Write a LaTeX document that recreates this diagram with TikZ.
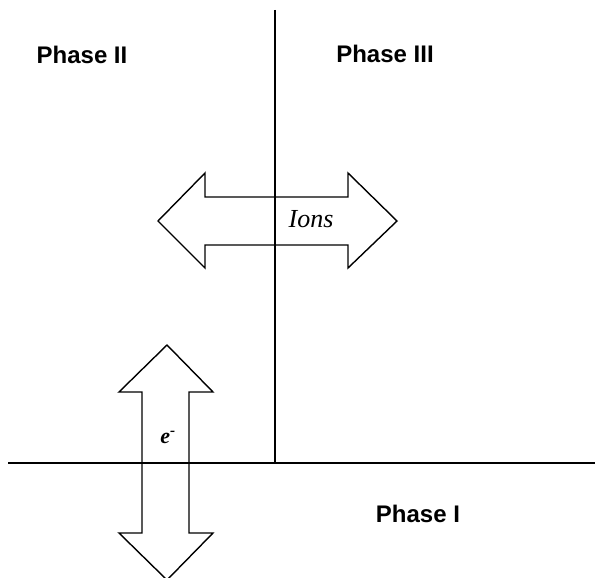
\documentclass[tikz,border=0pt]{standalone}
\usepackage{fontspec}
\setmainfont{Liberation Serif}
\setsansfont{Liberation Sans}
\begin{document}
\begin{tikzpicture}[x=1pt,y=-1pt,
  phase/.style={font=\sffamily\bfseries\fontsize{24}{28}\selectfont, inner sep=0pt},
  bound/.style={line width=1.9pt},
  fatarrow/.style={line width=1.4pt, line join=miter}]
\useasboundingbox (0,0) rectangle (595,578);
% boundaries
\coordinate (vtop) at (275,10);
\coordinate (vbot) at (275,463);
\coordinate (hleft) at (8,463);
\coordinate (hright) at (595,463);
\draw[bound] (vtop) -- (vbot);
\draw[bound] (hleft) -- (hright);
% Ions arrow
\draw[fatarrow] (158,221) -- (205,173) -- (205,197) -- (348,197) -- (348,173) -- (397,221)
  -- (348,268) -- (348,245) -- (205,245) -- (205,268) -- cycle;
\node[font=\itshape\fontsize{26}{30}\selectfont, inner sep=0pt] (ions) at (311,219) {Ions};
% electron arrow
\draw[fatarrow] (167,345) -- (213,392) -- (189,392) -- (189,533) -- (213,533) -- (167,580)
  -- (119,533) -- (142,533) -- (142,392) -- (119,392) -- cycle;
\node[font=\bfseries\itshape\fontsize{22}{24}\selectfont, inner sep=0pt, anchor=base] (el) at (168,443) {e\textsuperscript{-}};
% phase labels
\node[phase] (p2) at (82,55) {Phase II};
\node[phase] (p3) at (385,54) {Phase III};
\node[phase] (p1) at (418,514) {Phase I};
\end{tikzpicture}
\end{document}
